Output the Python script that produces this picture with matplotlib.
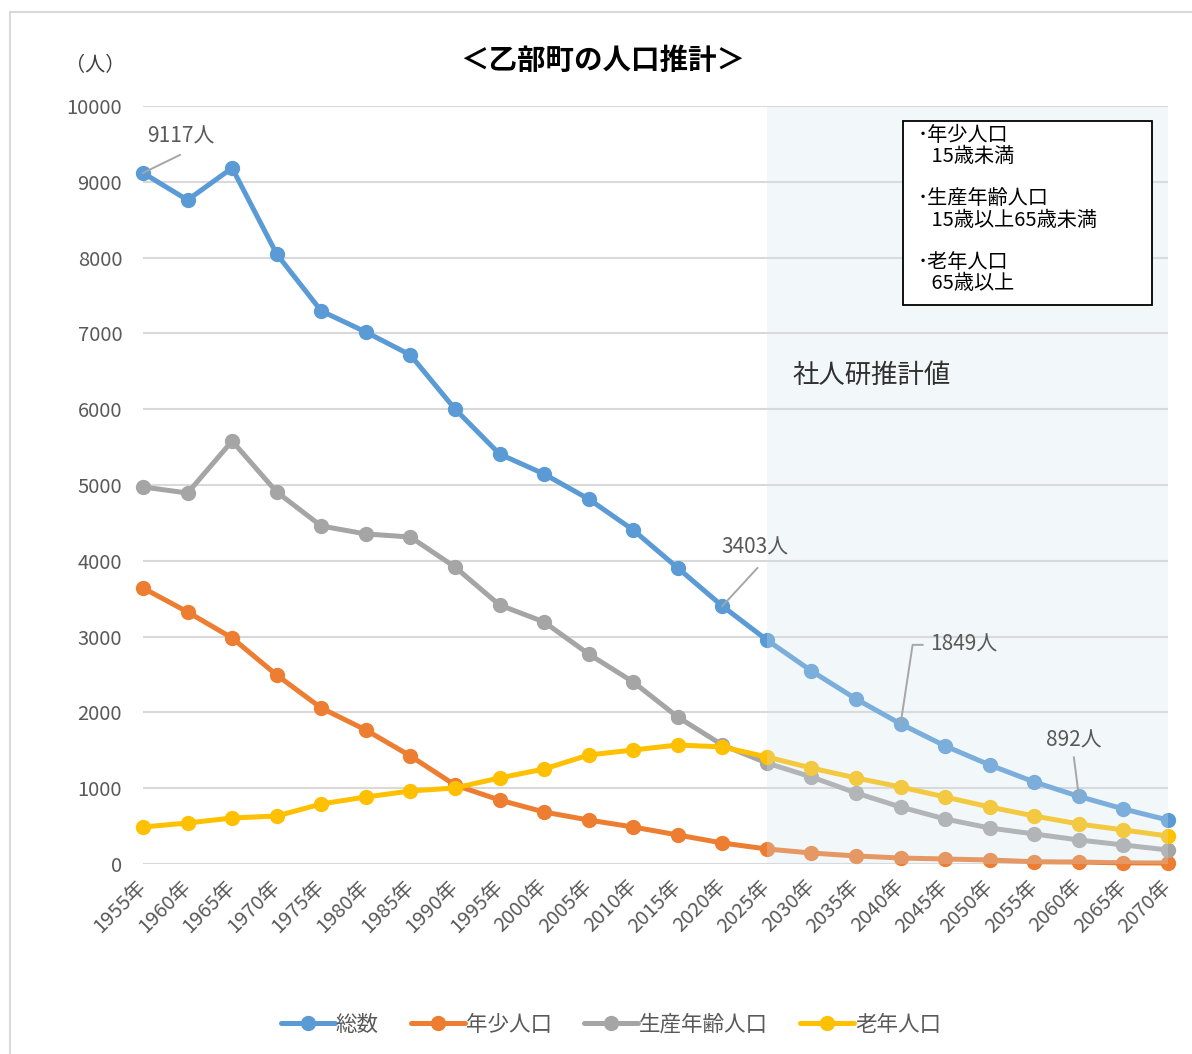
import numpy as np
import matplotlib.pyplot as plt
from matplotlib.patches import Rectangle
from matplotlib.lines import Line2D

plt.rcParams['font.family'] = ['Noto Sans CJK JP', 'DejaVu Sans']

# data
years = [1955, 1960, 1965, 1970, 1975, 1980, 1985, 1990, 1995, 2000, 2005, 2010,
         2015, 2020, 2025, 2030, 2035, 2040, 2045, 2050, 2055, 2060, 2065, 2070]
year_labels = [f'{y}年' for y in years]
total = [9117, 8760, 9182, 8047, 7296, 7018, 6715, 6003, 5409, 5145, 4815, 4406,
         3905, 3403, 2955, 2546, 2177, 1849, 1557, 1306, 1082, 892, 726, 580]
young = [3641, 3325, 2982, 2493, 2058, 1768, 1425, 1042, 844, 686, 580, 488,
         383, 277, 198, 145, 106, 79, 66, 53, 30, 26, 15, 13]
working = [4974, 4894, 5580, 4908, 4459, 4354, 4314, 3918, 3417, 3193, 2770, 2401,
           1939, 1570, 1332, 1148, 937, 752, 594, 475, 396, 317, 251, 185]
elderly = [488, 541, 607, 633, 792, 884, 963, 1003, 1135, 1253, 1438, 1504,
           1570, 1544, 1412, 1266, 1135, 1016, 884, 752, 633, 528, 449, 369]
series_names = ['総数', '年少人口', '生産年齢人口', '老年人口']
colors = ['#5B9BD5', '#ED7D31', '#A5A5A5', '#FFC000']
proj_start = 2025

# labelled points: (year, text, leader offsets in px, text offset in px, ha)
callouts = [
    (1955, '9117人', [(0, 0), (37, 18)], (38, 36), 'center'),
    (2020, '3403人', [(0, 0), (35, 38)], (33, 59), 'center'),
    (2040, '1849人', [(0, 0), (12, 79), (22, 79)], (30, 79), 'left'),
    (2060, '892人', [(0, 0), (-5, 39)], (-5, 56), 'center'),
]

W, H = 1192, 1054
fig = plt.figure(figsize=(W / 100, H / 100), dpi=100)
ax = fig.add_axes([143 / W, 1 - 864 / H, (1168 - 143) / W, (864 - 106) / H])

# outer frame
fig.add_artist(Rectangle((10 / W, -0.01), 1.0, 1 - 12 / H + 0.01, transform=fig.transFigure,
                         fill=False, edgecolor='#D9D9D9', linewidth=1.5))

x = np.arange(len(years))
series = [total, young, working, elderly]
for name, vals, c in zip(series_names, series, colors):
    ax.plot(x, vals, color=c, lw=3.6, marker='o', ms=10, label=name,
            clip_on=False, zorder=3, solid_capstyle='round')

# projection shading (drawn over the lines, semi transparent)
i0 = years.index(proj_start)
ax.axvspan(i0, len(years) - 1, color='#D2E3EE', alpha=0.27, lw=0, zorder=4)
ax.text(16.36, 6440, '社人研推計値', fontsize=19,
        color='#303030', ha='center', va='center', zorder=6)

ax.set_xlim(0, len(years) - 1)
ax.set_ylim(0, 10000)
ax.set_yticks(np.arange(0, 10001, 1000))
ax.set_xticks(x)
ax.set_xticklabels(year_labels, rotation=45, ha='right', va='center',
                   rotation_mode='anchor', fontsize=14.5, color='#595959')
ax.tick_params(axis='y', labelsize=14.5, labelcolor='#595959', length=0, pad=15)
ax.tick_params(axis='x', length=0, pad=14)
ax.grid(axis='y', color='#D9D9D9', lw=1.5)
ax.set_axisbelow(True)
for s in ax.spines.values():
    s.set_visible(False)

fig.canvas.draw()
for yr, txt, legs, toff, ha in callouts:
    i = years.index(yr)
    v = series[0][i]
    px, py = ax.transData.transform((i, v))
    xs = [px + dx for dx, dy in legs]
    ys = [py + dy for dx, dy in legs]
    fig.add_artist(Line2D(xs, ys, transform=None, color='#A6A6A6', lw=1.4, zorder=7))
    fig.text((px + toff[0]) / W, (py + toff[1]) / H, txt, ha=ha, va='center',
             fontsize=15, color='#595959', zorder=7)

# unit label and title
fig.text(95 / W, 1 - 66 / H, '（人）', fontsize=14.5, color='#404040', ha='center', va='center')
fig.text(603 / W, 1 - 61 / H, '＜乙部町の人口推計＞', fontsize=20.5, fontweight='bold',
         color='#000000', ha='center', va='center')

# note box
note = '･年少人口\n   15歳未満\n\n･生産年齢人口\n   15歳以上65歳未満\n\n･老年人口\n   65歳以上'
fig.add_artist(Rectangle((903 / W, 1 - 305 / H), (1152 - 903) / W, (305 - 121) / H,
                         transform=fig.transFigure, facecolor='white', edgecolor='black',
                         lw=1.3, zorder=8))
fig.text(918 / W, 1 - 125 / H, note, fontsize=14.5, color='#000000', ha='left', va='top',
         linespacing=1.01, zorder=9)

fig.legend(loc='center', bbox_to_anchor=(611 / W, 1 - 1025 / H), ncol=4, frameon=False,
           fontsize=15.5, handlelength=2.5, handletextpad=0.05, columnspacing=1.5,
           labelcolor='#595959')

fig.savefig('out.png', dpi=100)
